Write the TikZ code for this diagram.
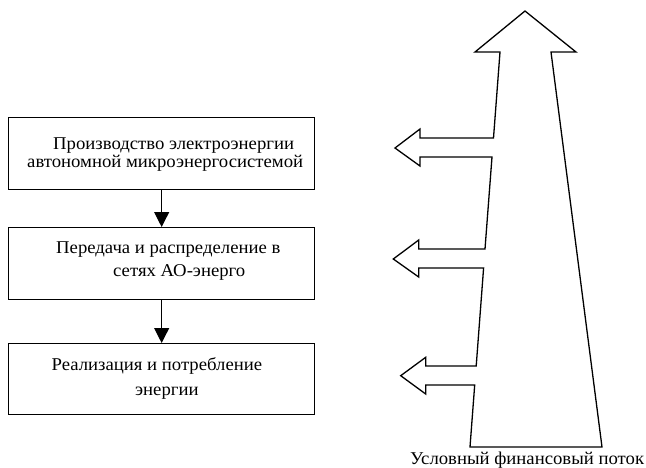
\documentclass[tikz,border=0pt]{standalone}
\usepackage{fontspec}
\setmainfont[FakeStretch=1.04]{Liberation Serif}
\usetikzlibrary{arrows.meta}
\begin{document}
\begin{tikzpicture}[x=1pt,y=-1pt,
  box/.style={draw, line width=1.3pt, minimum width=306pt, inner sep=0pt, anchor=north west},
  txt/.style={anchor=base west, inner sep=0pt, font=\fontsize{18}{20}\selectfont},
  flow/.style={-{Triangle[length=15pt,width=15pt]}, line width=1.1pt},
  bigarrow/.style={draw, line width=1.3pt, line join=miter}]
\useasboundingbox (0,0) rectangle (646,467);
% boxes
\node[box, minimum height=72pt] (b1) at (8,117) {};
\node[box, minimum height=72pt] (b2) at (8,227) {};
\node[box, minimum height=71pt] (b3) at (8,343) {};
% texts
\node[txt] (t11) at (53,149.5) {Производство электроэнергии};
\node[txt] (t12) at (27,167.5) {автономной микроэнергосистемой};
\node[txt] (t21) at (56,253.5) {Передача и распределение в};
\node[txt] (t22) at (113,276) {сетях АО-энерго};
\node[txt] (t31) at (51.5,370.5) {Реализация и потребление};
\node[txt] (t32) at (135,395) {энергии};
% connectors
\draw[flow] (b1.south) -- (b2.north);
\draw[flow] (b2.south) -- (b3.north);
% financial flow arrow
\draw[bigarrow] (525,11) -- (576,52) -- (551,52) -- (602,447) -- (470,447)
  -- (474.7,385) -- (425.7,385) -- (425.7,394) -- (400.7,375.7) -- (425.7,357.3)
  -- (425.7,366) -- (476.2,366) -- (483.6,268) -- (418.7,268) -- (418.7,277)
  -- (393.3,259) -- (418.7,240) -- (418.7,249) -- (485,249) -- (492,157)
  -- (420,157) -- (420,166) -- (395,148) -- (420,129) -- (420,138)
  -- (493.5,138) -- (500,52) -- (475,52) -- cycle;
\node[txt] (lbl) at (410,464.5) {Условный финансовый поток};
\end{tikzpicture}
\end{document}
